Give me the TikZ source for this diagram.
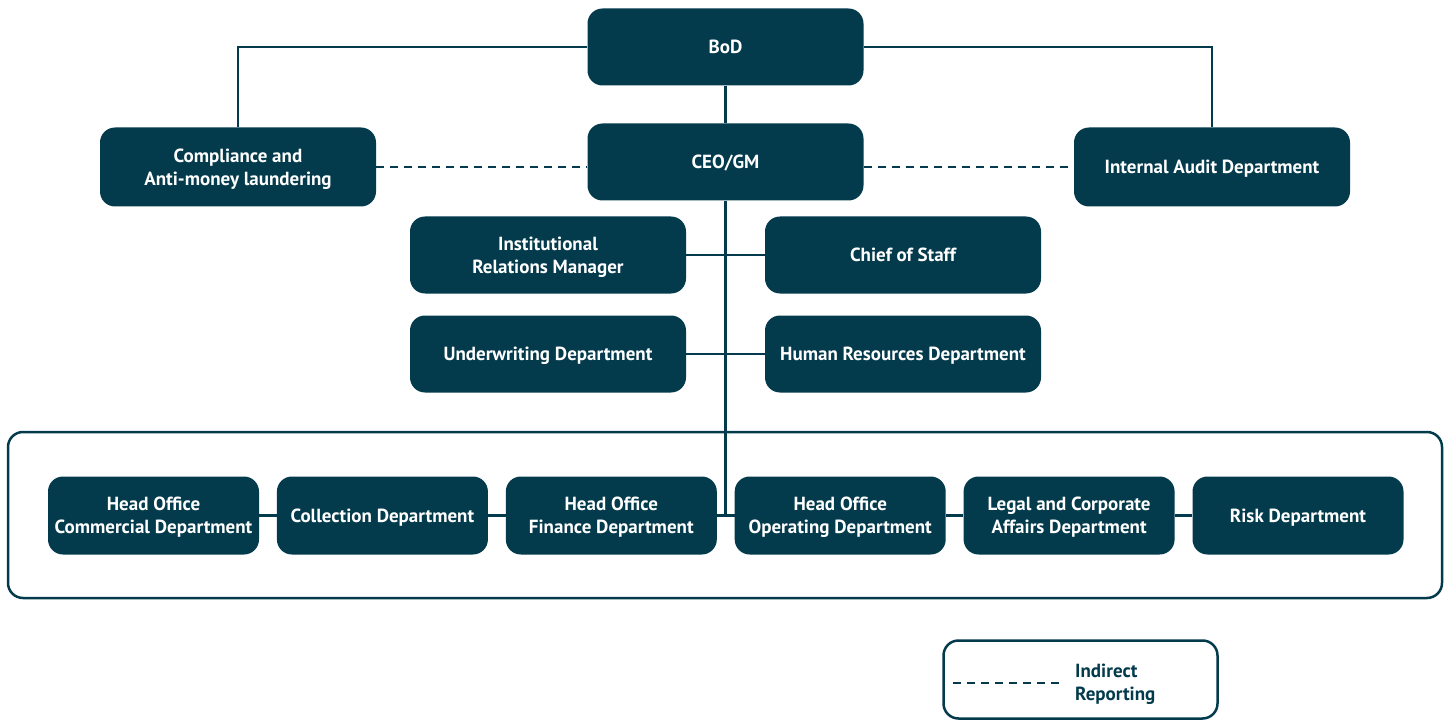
\documentclass[tikz,border=0pt]{standalone}
\usepackage{fontspec}
\setmainfont{PT Sans}
\usetikzlibrary{positioning}
\definecolor{orgteal}{HTML}{033B4C}

\begin{document}
\begin{tikzpicture}[x=1pt,y=-1pt,
  unit/.style={fill=orgteal, rounded corners=15pt, minimum width=276pt,
    minimum height=77pt, text=white, align=center, text depth=0pt,
    font=\bfseries\fontsize{19}{23}\selectfont},
  dept/.style={unit, minimum width=211pt, minimum height=78pt},
  link/.style={draw=orgteal, line width=2.5pt},
  indirect/.style={link, dash pattern=on 8pt off 6pt}]
  \useasboundingbox (0,0) rectangle (1449,722);
  % top of the chart
  \node[unit] (bod) at (725.5,47) {BoD};
  \node[unit] (ceo) at (725.5,162) {CEO/GM};
  \node[unit, minimum height=79pt] (cam) at (238,167) {Compliance and\\Anti-money laundering};
  \node[unit, minimum height=79pt] (audit) at (1212,167) {Internal Audit Department};
  \node[unit] (irm) at (548,255) {Institutional\\Relations Manager};
  \node[unit] (cos) at (903,255) {Chief of Staff};
  \node[unit] (uw) at (548,354) {Underwriting Department};
  \node[unit] (hr) at (903,354) {Human Resources Department};
  % departments
  \node[dept] (commercial) at (153.5,515.5) {Head Office\\Commercial Department};
  \node[dept, right=17.5pt of commercial] (collection) {Collection Department};
  \node[dept, right=17.5pt of collection] (finance) {Head Office\\Finance Department};
  \node[dept, right=17.5pt of finance] (operating) {Head Office\\Operating Department};
  \node[dept, right=17.5pt of operating] (legal) {Legal and Corporate\\Affairs Department};
  \node[dept, right=17.5pt of legal] (risk) {Risk Department};
  \draw[link, rounded corners=15pt] (8,432) rectangle (1442,598);
  % connectors
  \draw[link] (bod) -| (cam);
  \draw[link] (bod) -| (audit);
  \draw[link] (bod) -- (ceo);
  \draw[indirect] (cam) -- (cam -| ceo.west);
  \draw[indirect] (audit -| ceo.east) -- (audit);
  \draw[link] (irm) -- (cos);
  \draw[link] (uw) -- (hr);
  \draw[link] (ceo.south) -- (ceo.south |- finance.east);
  \draw[link] (commercial) -- (collection);
  \draw[link] (collection) -- (finance);
  \draw[link] (finance) -- (operating);
  \draw[link] (operating) -- (legal);
  \draw[link] (legal) -- (risk);
  % legend
  \node[link, rounded corners=15pt, minimum width=274pt, minimum height=78pt] (legend) at (1080.5,679.5) {};
  \coordinate (dashL) at (953,683);
  \coordinate (dashR) at (1063,683);
  \draw[indirect] (dashL) -- (dashR);
  \node[anchor=west, text=orgteal, align=left, inner sep=0pt,
    font=\bfseries\fontsize{19}{23}\selectfont] (legtext) at (1075,684) {Indirect\\Reporting};
\end{tikzpicture}
\end{document}
